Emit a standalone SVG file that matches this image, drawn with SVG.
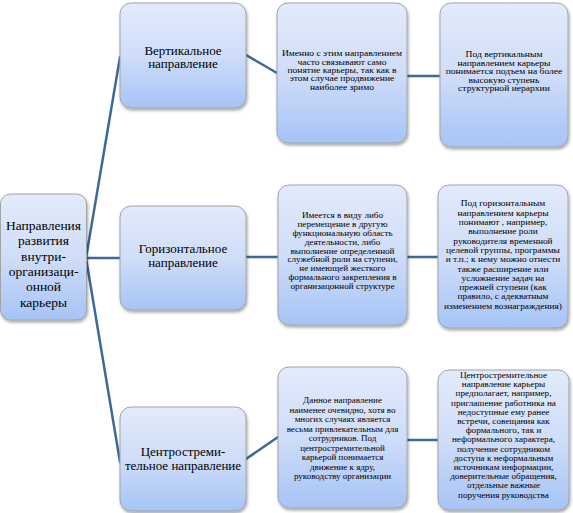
<svg xmlns="http://www.w3.org/2000/svg" width="573" height="513" viewBox="0 0 573 513">
<defs>
<linearGradient id="g" x1="0" y1="0" x2="0" y2="1">
<stop offset="0" stop-color="#e3ebfb"/>
<stop offset="0.5" stop-color="#cfddf8"/>
<stop offset="1" stop-color="#a6c4f6"/>
</linearGradient>
<filter id="sh" x="-10%" y="-10%" width="125%" height="125%">
<feDropShadow dx="1" dy="2" stdDeviation="1.5" flood-color="#000" flood-opacity="0.35"/>
</filter>
</defs>
<style>
.box{fill:url(#g);stroke:#a0a4aa;stroke-width:1;filter:url(#sh)}
.t{font-family:'Liberation Serif','DejaVu Serif','Times New Roman',serif;fill:#000;text-anchor:middle}
.l{font-size:13.5px}
.m{font-size:13px}
.c line{stroke:#3f6a98;stroke-width:2.5;stroke-linecap:round}
</style>
<g class="c" id="connectors">
<line x1="86" y1="258" x2="120" y2="57"/>
<line x1="86" y1="258" x2="120" y2="258"/>
<line x1="86" y1="258" x2="120" y2="462"/>
<line x1="246" y1="55" x2="277" y2="73"/>
<line x1="246" y1="257" x2="278" y2="257"/>
<line x1="246" y1="459" x2="278" y2="437"/>
<line x1="407" y1="76" x2="440" y2="76"/>
<line x1="407" y1="257" x2="438" y2="257"/>
<line x1="407" y1="440" x2="438" y2="440"/>
</g>
<g id="root">
<rect class="box" x="0.5" y="194" width="86" height="126" rx="10"/>
<text class="t l"><tspan x="43.5" y="230">Направления</tspan><tspan x="43.5" y="245.3">развития</tspan><tspan x="43.5" y="260.6">внутри-</tspan><tspan x="43.5" y="275.9">организаци-</tspan><tspan x="43.5" y="291.2">онной</tspan><tspan x="43.5" y="306.5">карьеры</tspan></text>
</g>
<g id="vertical">
<rect class="box" x="120" y="3" width="126" height="105" rx="11"/>
<text class="t m"><tspan x="183" y="54.5">Вертикальное</tspan><tspan x="183" y="68">направление</tspan></text>
</g>
<g id="horizontal">
<rect class="box" x="120" y="206" width="126" height="104" rx="11"/>
<text class="t m"><tspan x="183" y="252.5">Горизонтальное</tspan><tspan x="183" y="267">направление</tspan></text>
</g>
<g id="centripetal">
<rect class="box" x="120" y="407" width="126" height="104" rx="11"/>
<text class="t m"><tspan x="183" y="456">Центростреми-</tspan><tspan x="183" y="469.5">тельное направление</tspan></text>
</g>
<g id="v-desc1">
<rect class="box" x="277" y="3" width="130" height="140" rx="11"/>
<text class="t" font-size="8.3" transform="matrix(1.15,0,0,1,-51.3,0)"><tspan x="342" y="56.3">Именно с этим направлением</tspan><tspan x="342" y="64.7">часто связывают  само</tspan><tspan x="342" y="73.1">понятие карьеры, так как в</tspan><tspan x="342" y="81.5">этом случае продвижение</tspan><tspan x="342" y="89.9">наиболее зримо</tspan></text>
</g>
<g id="v-desc2">
<rect class="box" x="440" y="3" width="128" height="144" rx="11"/>
<text class="t" font-size="8.4" transform="matrix(1.14,0,0,1,-70.56,0)"><tspan x="504" y="57.5">Под вертикальным</tspan><tspan x="504" y="66">направлением карьеры</tspan><tspan x="504" y="74.5">понимается подъем на более</tspan><tspan x="504" y="83">высокую  ступень</tspan><tspan x="504" y="91.5">структурной иерархии</tspan></text>
</g>
<g id="h-desc1">
<rect class="box" x="278" y="185" width="129" height="140" rx="11"/>
<text class="t" font-size="8.8" transform="matrix(1.04,0,0,1,-13.7,0)"><tspan x="342.5" y="218">Имеется в виду либо</tspan><tspan x="342.5" y="226.9">перемещение  в другую</tspan><tspan x="342.5" y="235.8">функциональную область</tspan><tspan x="342.5" y="244.7">деятельности, либо</tspan><tspan x="342.5" y="253.6">выполнение определенной</tspan><tspan x="342.5" y="262.5">служебной роли на ступени,</tspan><tspan x="342.5" y="271.4">не имеющей жесткого</tspan><tspan x="342.5" y="280.3">формального закрепления в</tspan><tspan x="342.5" y="289.2">организацонной структуре</tspan></text>
</g>
<g id="h-desc2">
<rect class="box" x="438" y="185" width="130" height="143" rx="11"/>
<text class="t" font-size="9.2" transform="matrix(1.02,0,0,1,-10.06,0)"><tspan x="503" y="206.5">Под горизонтальным</tspan><tspan x="503" y="215.8">направлением карьеры</tspan><tspan x="503" y="225.1">понимают , например,</tspan><tspan x="503" y="234.4">выполнение роли</tspan><tspan x="503" y="243.7">руководителя временной</tspan><tspan x="503" y="253">целевой группы, программы</tspan><tspan x="503" y="262.3">и т.п.; к нему можно отнести</tspan><tspan x="503" y="271.6">также расширение или</tspan><tspan x="503" y="280.9">усложнение задач на</tspan><tspan x="503" y="290.2">прежней ступени (как</tspan><tspan x="503" y="299.5">правило, с адекватным</tspan><tspan x="503" y="308.8">изменением вознаграждения)</tspan></text>
</g>
<g id="c-desc1">
<rect class="box" x="278" y="367" width="129" height="141" rx="11"/>
<text class="t" font-size="9"><tspan x="342.5" y="403">Данное направление</tspan><tspan x="342.5" y="412.5">наименее очевидно, хотя во</tspan><tspan x="342.5" y="422">многих случаях является</tspan><tspan x="342.5" y="431.5">весьма  привлекательным  для</tspan><tspan x="342.5" y="441">сотрудников. Под</tspan><tspan x="342.5" y="450.5">центростремительной</tspan><tspan x="342.5" y="460">карьерой понимается</tspan><tspan x="342.5" y="469.5">движение к ядру,</tspan><tspan x="342.5" y="479">руководству организации</tspan></text>
</g>
<g id="c-desc2">
<rect class="box" x="438" y="370" width="131" height="140" rx="11"/>
<text class="t" font-size="9" transform="matrix(1.02,0,0,1,-10.07,0)"><tspan x="503.5" y="378">Центростремительное</tspan><tspan x="503.5" y="387.2">направление карьеры</tspan><tspan x="503.5" y="396.4">предполагает, например,</tspan><tspan x="503.5" y="405.6">приглашение работника на</tspan><tspan x="503.5" y="414.8">недоступные ему ранее</tspan><tspan x="503.5" y="424">встречи, совещания  как</tspan><tspan x="503.5" y="433.2">формального, так и</tspan><tspan x="503.5" y="442.4">неформального характера,</tspan><tspan x="503.5" y="451.6">получение сотрудником</tspan><tspan x="503.5" y="460.8">доступа к неформальным</tspan><tspan x="503.5" y="470">источникам информации,</tspan><tspan x="503.5" y="479.2">доверительные обращения,</tspan><tspan x="503.5" y="488.4">отдельные важные</tspan><tspan x="503.5" y="497.6">поручения руководства</tspan></text>
</g>
</svg>
